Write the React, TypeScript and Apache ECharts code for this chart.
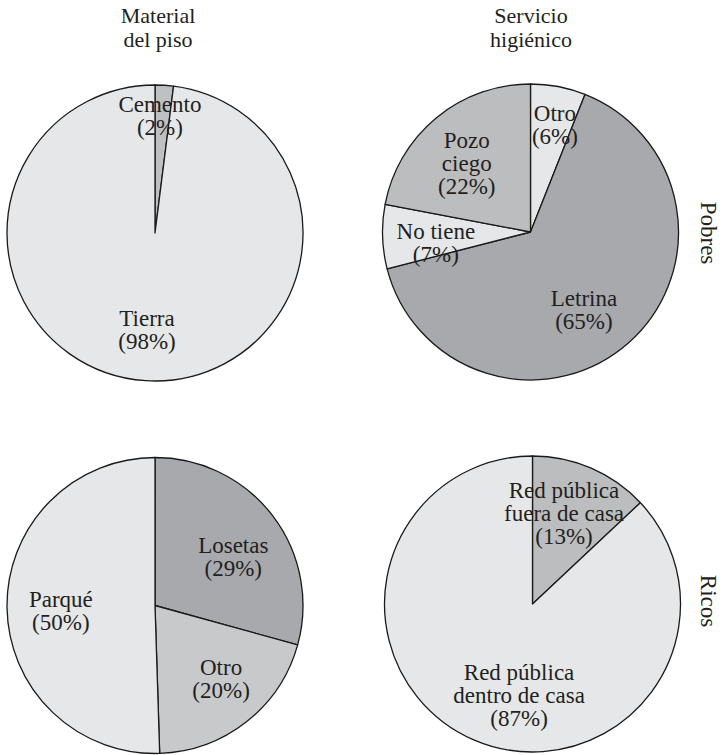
import React, { useEffect, useRef } from "react";
import * as echarts from "echarts";

// ---- Data ----
const pobresPisoCategories = ["Cemento", "Tierra"];
const pobresPisoValues = [2, 98];

const pobresServicioCategories = ["Otro", "Letrina", "No tiene", "Pozo\nciego"];
const pobresServicioValues = [6, 65, 7, 22];

const ricosPisoCategories = ["Losetas", "Otro", "Parqué"];
const ricosPisoValues = [29, 20, 50];

const ricosServicioCategories = ["Red pública\nfuera de casa", "Red pública\ndentro de casa"];
const ricosServicioValues = [13, 87];

const columnTitles = ["Material\ndel piso", "Servicio\nhigiénico"];
const rowTitles = ["Pobres", "Ricos"];

// ---- Styling (not data) ----
const FONT = "Liberation Serif, serif";
const TEXT = "#231f20";
const LIGHT = "#e6e7e8";
const MID = "#bcbdbf";
const DARK = "#a8a9ac";
const MIDLIGHT = "#c8c9cb";
const RADIUS = 148;

const pies = [
  {
    center: [155, 233],
    names: pobresPisoCategories,
    values: pobresPisoValues,
    colors: ["#bfc0c2", LIGHT],
    // label placement: [angle clockwise from 12 o'clock (deg), distance from center (px)]
    labels: [
      [2.4, 117],
      [184.7, 97.6],
    ],
  },
  {
    center: [530.5, 232],
    names: pobresServicioCategories,
    values: pobresServicioValues,
    colors: [LIGHT, DARK, LIGHT, MID],
    labels: [
      [12.8, 110],
      [145.6, 94.6],
      [263.4, 95.3],
      [317, 93.5],
    ],
  },
  {
    center: [155, 605.5],
    names: ricosPisoCategories,
    values: ricosPisoValues,
    colors: [DARK, MIDLIGHT, LIGHT],
    labels: [
      [58.3, 92],
      [138.1, 98.9],
      [266.8, 94.3],
    ],
  },
  {
    center: [532.5, 604],
    names: ricosServicioCategories,
    values: ricosServicioValues,
    colors: [MID, LIGHT],
    labels: [
      [19.3, 95.4],
      [188.4, 92],
    ],
  },
];

export default function App() {
  const ref = useRef<HTMLDivElement>(null);

  useEffect(() => {
    document.body.style.margin = "0";
    if (!ref.current) return;
    const chart = echarts.init(ref.current, undefined, { renderer: "svg" });

    const series = pies.map((p) => ({
      type: "pie",
      center: p.center,
      radius: RADIUS,
      startAngle: 90,
      clockwise: true,
      silent: true,
      emphasis: { disabled: true },
      itemStyle: { borderColor: "#1a1a1a", borderWidth: 1.3 },
      label: {
        show: true,
        position: "inside",
        formatter: (prm: any) => `${prm.name}\n(${prm.value}%)`,
        fontFamily: FONT,
        fontSize: 23,
        lineHeight: 23,
        color: TEXT,
        align: "center",
        verticalAlign: "middle",
      },
      labelLine: { show: false },
      labelLayout: (prm: any) => {
        const [a, r] = p.labels[prm.dataIndex];
        const rad = (a * Math.PI) / 180;
        return {
          x: p.center[0] + r * Math.sin(rad),
          y: p.center[1] - r * Math.cos(rad),
          align: "center",
          verticalAlign: "middle",
        };
      },
      data: p.names.map((n, i) => ({
        name: n,
        value: p.values[i],
        itemStyle: { color: p.colors[i] },
      })),
    }));

    chart.setOption({
      animation: false,
      backgroundColor: "#ffffff",
      textStyle: { fontFamily: FONT },
      title: [
        { text: columnTitles[0], left: 158, top: 3 },
        { text: columnTitles[1], left: 531, top: 3 },
      ].map((t) => ({
        ...t,
        textAlign: "center",
        padding: 0,
        textStyle: {
          fontFamily: FONT,
          fontSize: 22,
          lineHeight: 24,
          fontWeight: "normal",
          color: TEXT,
        },
      })),
      graphic: [
        { y: 233, text: rowTitles[0] },
        { y: 601, text: rowTitles[1] },
      ].map((g) => ({
        type: "text",
        x: 708,
        y: g.y,
        rotation: -Math.PI / 2,
        style: {
          text: g.text,
          font: `23px ${FONT}`,
          fill: TEXT,
          align: "center",
          verticalAlign: "middle",
        },
      })),
      series,
    });

    return () => chart.dispose();
  }, []);

  return <div ref={ref} style={{ width: 723, height: 755 }} />;
}
